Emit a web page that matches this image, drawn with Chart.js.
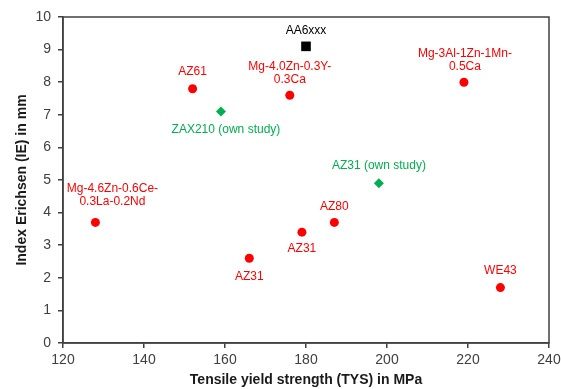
<!DOCTYPE html>
<html>
<head>
  <title>Erichsen index vs TYS</title>
  <script src="https://cdn.jsdelivr.net/npm/chart.js"></script>
  <style>
    body { margin: 0; background: white; }
    canvas { display: block; }
  </style>
</head>
<body>
<canvas id="ieChart" width="561" height="389"></canvas>

<script>
// literature values (red circles)
const litNames = ['Mg-4.6Zn-0.6Ce-\n0.3La-0.2Nd', 'AZ61', 'Mg-4.0Zn-0.3Y-\n0.3Ca', 'AZ31', 'AZ31', 'AZ80', 'Mg-3Al-1Zn-1Mn-\n0.5Ca', 'WE43'];
const litTys = [128, 152, 176, 166, 179, 187, 219, 228];
const litIe = [3.7, 7.8, 7.6, 2.6, 3.4, 3.7, 8.0, 1.7];

// own study (green diamonds)
const ownNames = ['ZAX210 (own study)', 'AZ31 (own study)'];
const ownTys = [159, 198];
const ownIe = [7.1, 4.9];

// aluminium reference (black square)
const refNames = ['AA6xxx'];
const refTys = [180];
const refIe = [9.1];

const xTicks = [120, 140, 160, 180, 200, 220, 240];
const yTicks = [0, 1, 2, 3, 4, 5, 6, 7, 8, 9, 10];

// label placement relative to each point: [dx, dy of last line]
const litLabelPos = [[17, -21], [0, -17], [0, -16], [0, 18], [0, 17], [0, -16], [1, -16], [0, -17]];
const ownLabelPos = [[5, 18], [0, -18]];
const refLabelPos = [[0, -16]];

function pts(xs, ys) {
  return xs.map((x, i) => ({ x: x, y: ys[i] }));
}

const pointLabels = {
  id: 'pointLabels',
  afterDatasetsDraw(chart) {
    const ctx = chart.ctx;
    ctx.save();
    ctx.font = '12px "Liberation Sans", Arial, sans-serif';
    ctx.textAlign = 'center';
    ctx.textBaseline = 'middle';
    chart.data.datasets.forEach((ds, di) => {
      const meta = chart.getDatasetMeta(di);
      ctx.fillStyle = ds.labelColor;
      meta.data.forEach((el, i) => {
        const lines = ds.names[i].split('\n');
        const off = ds.labelPos[i];
        lines.forEach((ln, k) => {
          const y = el.y + off[1] - (lines.length - 1 - k) * 12.5;
          ctx.fillText(ln, el.x + off[0], y);
        });
      });
    });
    ctx.restore();
  }
};

const frame = {
  id: 'frame',
  afterDraw(chart) {
    const a = chart.chartArea;
    const ctx = chart.ctx;
    ctx.save();
    ctx.strokeStyle = '#404040';
    ctx.lineWidth = 1.5;
    ctx.strokeRect(a.left, a.top, a.right - a.left, a.bottom - a.top);
    ctx.restore();
  }
};

const tickFont = { family: '"Liberation Sans", Arial, sans-serif', size: 14 };
const titleFont = { family: '"Liberation Sans", Arial, sans-serif', size: 14, weight: 'bold' };

new Chart(document.getElementById('ieChart'), {
  type: 'scatter',
  data: {
    datasets: [
      {
        data: pts(litTys, litIe), names: litNames, labelPos: litLabelPos, labelColor: '#FF0000',
        pointStyle: 'circle', pointRadius: 4.5, pointHoverRadius: 4.5,
        backgroundColor: '#FF0000', borderColor: '#FF0000', borderWidth: 0
      },
      {
        data: pts(ownTys, ownIe), names: ownNames, labelPos: ownLabelPos, labelColor: '#00B050',
        pointStyle: 'rectRot', pointRadius: 5, pointHoverRadius: 5,
        backgroundColor: '#00B050', borderColor: '#00B050', borderWidth: 0
      },
      {
        data: pts(refTys, refIe), names: refNames, labelPos: refLabelPos, labelColor: '#000000',
        pointStyle: 'rect', pointRadius: 6.8, pointHoverRadius: 6.8,
        backgroundColor: '#000000', borderColor: '#000000', borderWidth: 0
      }
    ]
  },
  options: {
    responsive: false,
    animation: false,
    layout: { padding: { top: 17, right: 12, bottom: 0, left: 0 } },
    plugins: { legend: { display: false }, tooltip: { enabled: false } },
    scales: {
      x: {
        type: 'linear', min: 120, max: 240,
        afterBuildTicks: s => { s.ticks = xTicks.map(v => ({ value: v })); },
        afterFit: s => { s.height = 46; s.paddingLeft = 0; s.paddingRight = 0; },
        grid: { drawOnChartArea: false, drawTicks: true, tickLength: 5, color: '#404040', lineWidth: 1.5 },
        border: { display: true, color: '#404040', width: 1.5 },
        ticks: { font: tickFont, color: '#404040', padding: 4, maxRotation: 0 },
        title: { display: true, text: 'Tensile yield strength (TYS) in MPa', font: titleFont, color: '#1a1a1a', padding: { top: 0, bottom: 0 } }
      },
      y: {
        type: 'linear', min: 0, max: 10,
        afterBuildTicks: s => { s.ticks = yTicks.map(v => ({ value: v })); },
        afterFit: s => { s.width = 63; s.paddingTop = 0; s.paddingBottom = 0; },
        grid: { drawOnChartArea: false, drawTicks: true, tickLength: 5, color: '#404040', lineWidth: 1.5 },
        border: { display: true, color: '#404040', width: 1.5 },
        ticks: { font: tickFont, color: '#404040', padding: 7 },
        title: { display: true, text: 'Index Erichsen (IE) in mm', font: titleFont, color: '#1a1a1a', padding: { top: 14, bottom: 0 } }
      }
    }
  },
  plugins: [pointLabels, frame]
});
</script>
</body>
</html>
